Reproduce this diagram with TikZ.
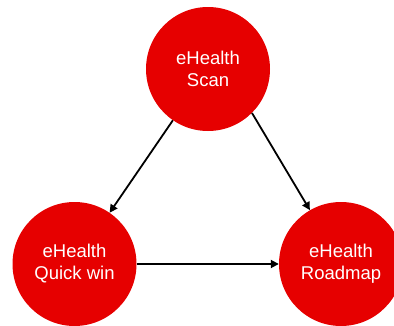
\documentclass[tikz,border=0pt]{standalone}
\usepackage{fontspec}
\setmainfont{Liberation Sans}
\usetikzlibrary{arrows.meta}
\definecolor{ehred}{RGB}{230,0,0}

\begin{document}
\begin{tikzpicture}[x=1pt, y=1pt,
            phase/.style={circle, fill=ehred, text=white, minimum size=124pt, inner sep=0pt, align=center, font=\fontsize{18.5}{22}\selectfont},
            arr/.style={-{Triangle[length=8pt, width=8pt]}, line width=1.8pt, black}
        ]
            \useasboundingbox (0,0) rectangle (394,325);
            \node[phase] (scan) at (208,256) {eHealth\\Scan};
            \node[phase] (quick) at (74.5,61) {eHealth\\Quick win};
            \node[phase] (road) at (341,61) {eHealth\\Roadmap};

            \draw[arr] (scan) -- (quick);
            \draw[arr] (scan.-45) -- (road.120);
            \draw[arr] (quick) -- (road);
        \end{tikzpicture}
\end{document}
